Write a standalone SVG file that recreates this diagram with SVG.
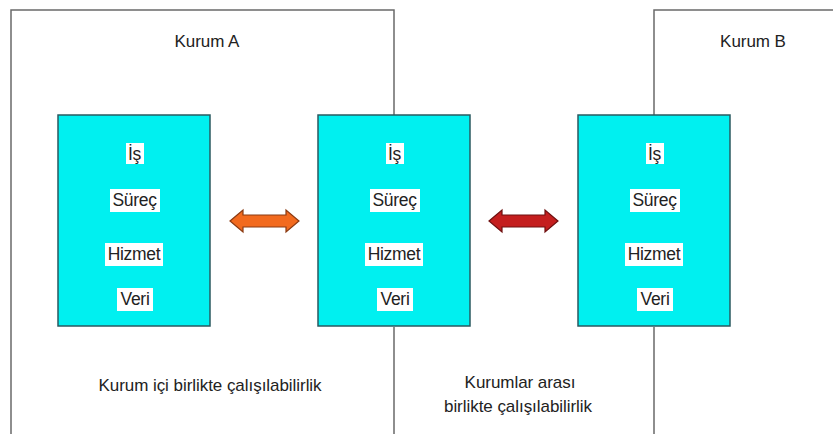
<svg xmlns="http://www.w3.org/2000/svg" width="833" height="434" viewBox="0 0 833 434">
<style>
.frame{fill:none;stroke:#6a6a6a;stroke-width:1.5}
.box{fill:#00f0f0;stroke:#2a5a60;stroke-width:1.5}
.bg{fill:#ffffff}
.t{font-family:"Liberation Sans",Arial,sans-serif;font-size:17.5px;fill:#222;text-anchor:middle;letter-spacing:-0.3px}
.l{font-family:"Liberation Sans",Arial,sans-serif;font-size:17px;fill:#222;text-anchor:middle;letter-spacing:-0.05px}
</style>
<defs>
<path id="dbl" d="M0,11 L13,0 L13,5 L56,5 L56,0 L69,11 L56,22 L56,17 L13,17 L13,22 Z"/>
</defs>
<rect width="833" height="434" fill="#ffffff"/>
<g id="kurumA">
<path class="frame" d="M11,434 L11,10 L394,10 L394,115 M394,327 L394,434"/>
<text class="l" x="207" y="47">Kurum A</text>
</g>
<g id="kurumB">
<path class="frame" d="M833,10 L654,10 L654,115 M654,327 L654,434"/>
<text class="l" x="753" y="47">Kurum B</text>
</g>
<g id="boxA">
<rect class="box" x="58" y="115" width="152" height="211"/>
<rect class="bg" x="126" y="143" width="18" height="21"/>
<rect class="bg" x="110" y="189" width="50" height="23"/>
<rect class="bg" x="105" y="243" width="58" height="23"/>
<rect class="bg" x="117" y="288" width="36" height="23"/>
<text class="t" x="134.5" y="160">İş</text>
<text class="t" x="134.5" y="206">Süreç</text>
<text class="t" x="134" y="260">Hizmet</text>
<text class="t" x="135" y="305">Veri</text>
</g>
<g id="boxMid">
<rect class="box" x="318" y="115" width="152" height="211"/>
<rect class="bg" x="386" y="143" width="18" height="21"/>
<rect class="bg" x="370" y="189" width="50" height="23"/>
<rect class="bg" x="365" y="243" width="58" height="23"/>
<rect class="bg" x="377" y="288" width="36" height="23"/>
<text class="t" x="394.5" y="160">İş</text>
<text class="t" x="394.5" y="206">Süreç</text>
<text class="t" x="394" y="260">Hizmet</text>
<text class="t" x="395" y="305">Veri</text>
</g>
<g id="boxB">
<rect class="box" x="578" y="115" width="152" height="211"/>
<rect class="bg" x="646" y="143" width="18" height="21"/>
<rect class="bg" x="630" y="189" width="50" height="23"/>
<rect class="bg" x="625" y="243" width="58" height="23"/>
<rect class="bg" x="637" y="288" width="36" height="23"/>
<text class="t" x="654.5" y="160">İş</text>
<text class="t" x="654.5" y="206">Süreç</text>
<text class="t" x="654" y="260">Hizmet</text>
<text class="t" x="655" y="305">Veri</text>
</g>
<g id="connectors">
<use href="#dbl" transform="translate(230,210)" fill="#f26a1e" stroke="#8a3a12" stroke-width="1.2"/>
<use href="#dbl" transform="translate(489,210)" fill="#c41e1e" stroke="#6e1010" stroke-width="1.2"/>
</g>
<g id="labels">
<text class="l" x="210" y="391">Kurum içi birlikte çalışılabilirlik</text>
<text class="l" x="520" y="388">Kurumlar arası</text>
<text class="l" x="518" y="412">birlikte çalışılabilirlik</text>
</g>
</svg>
